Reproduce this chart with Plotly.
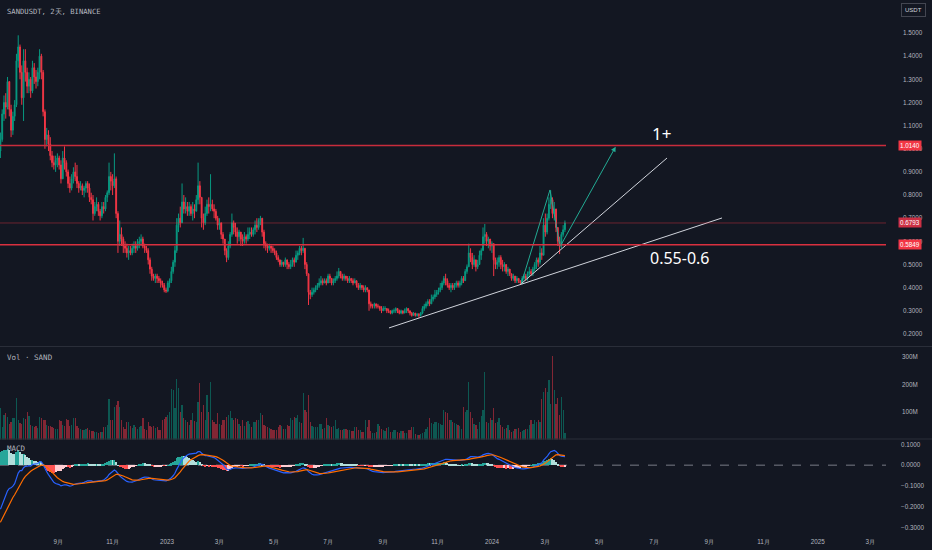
import plotly.graph_objects as go
import pandas as pd

BG = "#131722"
TXT = "#b2b5be"
UP = "#089981"
DN = "#f23645"
FONT = "Liberation Sans"
MONO = "DejaVu Sans Mono"

# ---------------- data (2-day candles) ----------------
first_date = "2022-06-28"
first_open = 0.99
closes = [
    1.04, 1.15, 1.20, 1.18, 1.29, 1.17, 1.08, 1.14, 1.19, 1.38,
    1.44, 1.33, 1.22, 1.38, 1.33, 1.27, 1.30, 1.25, 1.35, 1.31,
    1.29, 1.33, 1.40, 1.33, 1.16, 1.04, 1.06, 1.02, 0.97, 0.94,
    0.93, 0.95, 0.96, 0.93, 0.87, 0.96, 0.94, 0.90, 0.85, 0.83,
    0.87, 0.90, 0.88, 0.85, 0.83, 0.84, 0.82, 0.83, 0.85, 0.83,
    0.79, 0.78, 0.72, 0.75, 0.76, 0.73, 0.71, 0.75, 0.74, 0.79,
    0.81, 0.88, 0.86, 0.84, 0.87, 0.72, 0.60, 0.63, 0.61, 0.58,
    0.57, 0.55, 0.56, 0.55, 0.57, 0.58, 0.57, 0.59, 0.60, 0.61,
    0.58, 0.57, 0.56, 0.52, 0.48, 0.45, 0.44, 0.45, 0.44, 0.43,
    0.42, 0.41, 0.39, 0.385, 0.42, 0.43, 0.47, 0.51, 0.56, 0.67,
    0.70, 0.68, 0.77, 0.74, 0.75, 0.73, 0.75, 0.72, 0.74, 0.73,
    0.78, 0.84, 0.79, 0.70, 0.68, 0.72, 0.76, 0.75, 0.76, 0.74,
    0.73, 0.70, 0.67, 0.68, 0.63, 0.61, 0.56, 0.53, 0.58, 0.63,
    0.68, 0.66, 0.64, 0.62, 0.64, 0.61, 0.60, 0.62, 0.61, 0.63,
    0.64, 0.63, 0.65, 0.67, 0.66, 0.69, 0.70, 0.64, 0.59, 0.58,
    0.57, 0.58, 0.57, 0.56, 0.55, 0.53, 0.52, 0.50, 0.51, 0.50,
    0.52, 0.50, 0.49, 0.50, 0.52, 0.51, 0.54, 0.55, 0.57, 0.56,
    0.57, 0.50, 0.46, 0.38, 0.37, 0.38, 0.39, 0.40, 0.41, 0.42,
    0.43, 0.42, 0.43, 0.42, 0.45, 0.44, 0.42, 0.43, 0.44, 0.45,
    0.47, 0.45, 0.44, 0.45, 0.44, 0.43, 0.44, 0.43, 0.42, 0.43,
    0.41, 0.40, 0.41, 0.40, 0.39, 0.40, 0.39, 0.33, 0.32, 0.32,
    0.33, 0.32, 0.32, 0.31, 0.30, 0.31, 0.31, 0.30, 0.30, 0.29,
    0.30, 0.30, 0.31, 0.30, 0.29, 0.30, 0.29, 0.30, 0.31, 0.30,
    0.29, 0.28, 0.29, 0.28, 0.285, 0.28, 0.29, 0.31, 0.32, 0.33,
    0.34, 0.33, 0.35, 0.36, 0.37, 0.38, 0.39, 0.40, 0.42, 0.44,
    0.43, 0.41, 0.40, 0.41, 0.40, 0.41, 0.42, 0.41, 0.42, 0.44,
    0.43, 0.47, 0.49, 0.55, 0.53, 0.50, 0.52, 0.49, 0.50, 0.54,
    0.56, 0.62, 0.63, 0.60, 0.61, 0.58, 0.59, 0.52, 0.50, 0.51,
    0.53, 0.50, 0.49, 0.50, 0.47, 0.48, 0.46, 0.44, 0.45, 0.43,
    0.44, 0.43, 0.42, 0.44, 0.45, 0.44, 0.46, 0.47, 0.46, 0.48,
    0.50, 0.52, 0.51, 0.55, 0.54, 0.67, 0.64, 0.70, 0.76, 0.78,
    0.72, 0.74, 0.66, 0.60, 0.58, 0.63, 0.65, 0.6793,
]
highs = [
    1.07, 1.17, 1.23, 1.24, 1.31, 1.29, 1.19, 1.16, 1.21, 1.41,
    1.49, 1.45, 1.36, 1.43, 1.43, 1.35, 1.33, 1.31, 1.38, 1.37,
    1.34, 1.35, 1.43, 1.41, 1.34, 1.17, 1.09, 1.08, 1.05, 0.99,
    0.97, 0.97, 0.98, 0.97, 0.95, 0.99, 1.01, 0.95, 0.91, 0.88,
    0.89, 0.92, 0.94, 0.93, 0.86, 0.86, 0.85, 0.84, 0.86, 0.86,
    0.85, 0.81, 0.80, 0.77, 0.79, 0.77, 0.74, 0.77, 0.77, 0.80,
    0.82, 0.94, 0.90, 0.89, 0.98, 0.88, 0.73, 0.69, 0.66, 0.62,
    0.60, 0.59, 0.58, 0.58, 0.59, 0.60, 0.60, 0.61, 0.62, 0.63,
    0.62, 0.59, 0.58, 0.57, 0.53, 0.49, 0.46, 0.46, 0.46, 0.45,
    0.44, 0.43, 0.42, 0.40, 0.43, 0.44, 0.49, 0.52, 0.58, 0.70,
    0.72, 0.75, 0.85, 0.80, 0.79, 0.77, 0.77, 0.76, 0.77, 0.76,
    0.80, 0.94, 0.86, 0.79, 0.72, 0.75, 0.78, 0.79, 0.89, 0.78,
    0.76, 0.74, 0.71, 0.70, 0.68, 0.64, 0.61, 0.57, 0.60, 0.64,
    0.72, 0.69, 0.68, 0.66, 0.65, 0.64, 0.63, 0.64, 0.63, 0.66,
    0.66, 0.66, 0.66, 0.69, 0.70, 0.70, 0.71, 0.70, 0.65, 0.60,
    0.59, 0.59, 0.58, 0.58, 0.57, 0.56, 0.54, 0.52, 0.52, 0.51,
    0.53, 0.52, 0.51, 0.52, 0.53, 0.53, 0.56, 0.56, 0.58, 0.58,
    0.615, 0.57, 0.51, 0.46, 0.39, 0.40, 0.40, 0.41, 0.42, 0.44,
    0.45, 0.44, 0.44, 0.44, 0.46, 0.46, 0.44, 0.44, 0.45, 0.47,
    0.485, 0.47, 0.46, 0.46, 0.45, 0.45, 0.45, 0.44, 0.44, 0.44,
    0.43, 0.42, 0.42, 0.41, 0.41, 0.41, 0.40, 0.39, 0.34, 0.33,
    0.335, 0.33, 0.33, 0.32, 0.32, 0.32, 0.32, 0.31, 0.31, 0.30,
    0.305, 0.31, 0.315, 0.31, 0.305, 0.305, 0.30, 0.31, 0.315, 0.31,
    0.30, 0.295, 0.295, 0.29, 0.29, 0.29, 0.295, 0.32, 0.33, 0.34,
    0.35, 0.35, 0.37, 0.37, 0.39, 0.39, 0.40, 0.42, 0.43, 0.45,
    0.46, 0.44, 0.42, 0.42, 0.42, 0.42, 0.43, 0.43, 0.43, 0.45,
    0.45, 0.48, 0.50, 0.59, 0.57, 0.55, 0.54, 0.52, 0.52, 0.56,
    0.57, 0.66, 0.675, 0.64, 0.62, 0.61, 0.60, 0.59, 0.53, 0.53,
    0.54, 0.54, 0.52, 0.51, 0.50, 0.49, 0.48, 0.46, 0.46, 0.45,
    0.45, 0.44, 0.43, 0.45, 0.46, 0.46, 0.47, 0.49, 0.48, 0.49,
    0.51, 0.53, 0.53, 0.58, 0.57, 0.70, 0.72, 0.72, 0.79, 0.82,
    0.79, 0.77, 0.74, 0.66, 0.62, 0.64, 0.67, 0.69,
]
lows = [
    0.96, 1.03, 1.12, 1.13, 1.17, 1.14, 1.05, 1.06, 1.12, 1.18,
    1.35, 1.30, 1.19, 1.12, 1.29, 1.24, 1.24, 1.22, 1.24, 1.28,
    1.26, 1.27, 1.30, 1.30, 1.14, 1.00, 1.01, 0.99, 0.95, 0.92,
    0.91, 0.90, 0.92, 0.91, 0.85, 0.87, 0.91, 0.88, 0.83, 0.81,
    0.82, 0.85, 0.86, 0.83, 0.81, 0.82, 0.80, 0.79, 0.81, 0.81,
    0.77, 0.76, 0.69, 0.71, 0.73, 0.71, 0.69, 0.70, 0.72, 0.73,
    0.77, 0.80, 0.82, 0.80, 0.83, 0.70, 0.55, 0.58, 0.58, 0.55,
    0.55, 0.53, 0.52, 0.54, 0.54, 0.55, 0.55, 0.56, 0.57, 0.58,
    0.57, 0.55, 0.55, 0.50, 0.46, 0.43, 0.43, 0.42, 0.42, 0.42,
    0.40, 0.40, 0.38, 0.377, 0.38, 0.40, 0.42, 0.46, 0.49, 0.55,
    0.64, 0.66, 0.68, 0.72, 0.72, 0.71, 0.71, 0.71, 0.69, 0.70,
    0.73, 0.76, 0.76, 0.66, 0.65, 0.67, 0.71, 0.72, 0.73, 0.73,
    0.70, 0.69, 0.65, 0.65, 0.61, 0.59, 0.54, 0.51, 0.52, 0.57,
    0.62, 0.63, 0.62, 0.59, 0.60, 0.58, 0.58, 0.59, 0.59, 0.60,
    0.61, 0.62, 0.62, 0.63, 0.64, 0.65, 0.67, 0.62, 0.57, 0.56,
    0.55, 0.56, 0.55, 0.55, 0.54, 0.52, 0.51, 0.49, 0.49, 0.49,
    0.49, 0.48, 0.48, 0.48, 0.49, 0.49, 0.51, 0.52, 0.54, 0.54,
    0.55, 0.48, 0.45, 0.325, 0.35, 0.36, 0.37, 0.38, 0.39, 0.40,
    0.41, 0.41, 0.42, 0.41, 0.42, 0.42, 0.41, 0.41, 0.42, 0.43,
    0.44, 0.44, 0.43, 0.43, 0.43, 0.42, 0.42, 0.42, 0.41, 0.42,
    0.40, 0.39, 0.39, 0.39, 0.38, 0.38, 0.38, 0.30, 0.31, 0.31,
    0.31, 0.31, 0.31, 0.30, 0.29, 0.30, 0.30, 0.29, 0.29, 0.285,
    0.285, 0.29, 0.29, 0.29, 0.285, 0.285, 0.285, 0.29, 0.29, 0.29,
    0.28, 0.275, 0.28, 0.275, 0.275, 0.27, 0.275, 0.285, 0.30, 0.31,
    0.32, 0.32, 0.33, 0.34, 0.35, 0.36, 0.37, 0.38, 0.39, 0.41,
    0.41, 0.40, 0.39, 0.38, 0.39, 0.39, 0.40, 0.40, 0.40, 0.41,
    0.42, 0.43, 0.46, 0.49, 0.51, 0.48, 0.49, 0.47, 0.48, 0.50,
    0.52, 0.56, 0.59, 0.58, 0.57, 0.56, 0.55, 0.45, 0.48, 0.48,
    0.49, 0.48, 0.47, 0.47, 0.46, 0.45, 0.45, 0.43, 0.43, 0.42,
    0.42, 0.42, 0.413, 0.415, 0.43, 0.43, 0.43, 0.45, 0.45, 0.45,
    0.47, 0.48, 0.49, 0.50, 0.52, 0.54, 0.62, 0.63, 0.69, 0.74,
    0.70, 0.69, 0.64, 0.58, 0.545, 0.57, 0.62, 0.64,
]
volumes_m = [
    113, 47, 90, 95, 83, 55, 65, 80, 78, 150,
    70, 60, 58, 80, 75, 100, 85, 52, 50, 45,
    48, 42, 82, 78, 72, 70, 52, 48, 50, 45,
    42, 40, 38, 70, 68, 52, 50, 75, 72, 50,
    52, 80, 78, 48, 42, 40, 35, 36, 38, 42,
    35, 30, 32, 28, 27, 25, 26, 28, 45, 47,
    52, 146, 72, 70, 120, 125, 140, 120, 70, 45,
    40, 65, 62, 48, 42, 52, 45, 40, 46, 48,
    77, 40, 35, 65, 48, 47, 50, 42, 45, 35,
    33, 70, 75, 83, 90, 100, 185, 180, 113, 219,
    186, 100, 125, 77, 70, 65, 52, 70, 95, 68,
    62, 137, 204, 100, 125, 70, 162, 100, 210, 70,
    62, 58, 95, 55, 52, 70, 72, 82, 90, 103,
    78, 70, 80, 75, 55, 50, 70, 48, 65, 68,
    55, 45, 65, 62, 72, 70, 95, 90, 52, 48,
    45, 42, 38, 36, 35, 34, 45, 53, 50, 40,
    38, 52, 50, 77, 72, 83, 80, 89, 65, 60,
    170, 107, 100, 162, 65, 50, 45, 47, 45, 58,
    55, 40, 42, 80, 52, 50, 46, 48, 70, 40,
    42, 35, 34, 40, 38, 34, 33, 30, 30, 44,
    46, 35, 34, 29, 28, 70, 45, 70, 30, 25,
    24, 28, 56, 50, 40, 35, 30, 42, 44, 28,
    26, 33, 35, 28, 25, 32, 30, 24, 22, 33,
    35, 45, 46, 20, 18, 16, 20, 22, 28, 40,
    45, 77, 60, 55, 62, 65, 60, 55, 52, 107,
    100, 95, 70, 72, 65, 60, 58, 52, 50, 40,
    119, 100, 107, 210, 100, 77, 55, 52, 40, 65,
    85, 107, 247, 65, 60, 77, 70, 113, 60, 65,
    77, 52, 46, 40, 42, 53, 35, 28, 30, 37,
    40, 42, 28, 30, 35, 38, 40, 53, 70, 58,
    70, 65, 70, 65, 146, 174, 186, 174, 216, 130,
    305, 180, 130, 150, 89, 153, 107, 22,
]

# MACD(12, 26, 9) state at the left edge
ema12_seed = 1.08
ema26_seed = 1.305
signal_seed = -0.29

# horizontal levels and their axis labels
levels = [1.0140, 0.6793, 0.5849]
level_texts = ["1.0140", "0.6793", "0.5849"]

# drawings (date, price)
trend_long_dates = ["2023-09-07 10:00", "2024-09-15 10:00"]
trend_long_prices = [0.226, 0.701]
trend_steep_dates = ["2024-02-02", "2024-07-15 16:00"]
trend_steep_prices = [0.414, 0.96]
path_dates = ["2024-02-03", "2024-03-06 05:00", "2024-03-17 12:00"]
path_prices = [0.418, 0.822, 0.577]
arrow_end_date = "2024-05-19"
arrow_end_price = 1.009

# axes ticks
price_ticks = [0.2, 0.3, 0.4, 0.5, 0.6, 0.7, 0.8, 0.9, 1.0, 1.1, 1.2, 1.3, 1.4, 1.5]
price_tick_text = ["0.2000", "0.3000", "0.4000", "0.5000", "0.6000", "0.7000", "0.8000",
                   "0.9000", "1.0000", "1.1000", "1.2000", "1.3000", "1.4000", "1.5000"]
vol_ticks = [100, 200, 300]
vol_tick_text = ["100M", "200M", "300M"]
macd_ticks = [0.1, 0.0, -0.1, -0.2, -0.3]
macd_tick_text = ["0.1000", "0.0000", "\u22120.1000", "\u22120.2000", "\u22120.3000"]
month_ticks = ["2022-07-01", "2022-09-01", "2022-11-01", "2023-01-01", "2023-03-01",
               "2023-05-01", "2023-07-01", "2023-09-01", "2023-11-01", "2024-01-01",
               "2024-03-01", "2024-05-01", "2024-07-01", "2024-09-01", "2024-11-01",
               "2025-01-01", "2025-03-01"]
month_text = ["7月", "9月", "11月", "2023", "3月", "5月", "7月", "9月", "11月", "2024",
              "3月", "5月", "7月", "9月", "11月", "2025", "3月"]

# ---------------- derived series ----------------
dates = pd.date_range(first_date, periods=len(closes), freq="2D")
opens = [first_open] + closes[:-1]

a12, a26, a9 = 2 / 13, 2 / 27, 2 / 10
e12, e26, sig = ema12_seed, ema26_seed, signal_seed
macd, signal, hist = [], [], []
for c in closes:
    e12 += a12 * (c - e12)
    e26 += a26 * (c - e26)
    m = e12 - e26
    sig += a9 * (m - sig)
    macd.append(m)
    signal.append(sig)
    hist.append(m - sig)

hist_colors = []
prev = None
for h in hist:
    grow = prev is None or h > prev
    if h >= 0:
        hist_colors.append("#26a69a" if grow else "#b2dfdb")
    else:
        hist_colors.append("#ffcdd2" if grow else "#ff5252")
    prev = h

vol_colors = ["rgba(8,153,129,0.5)" if c >= o else "rgba(242,54,69,0.5)"
              for o, c in zip(opens, closes)]

# ---------------- figure ----------------
H_PLOT = 535.0
W_PLOT = 886.0
def py(px):
    return 1 - px / H_PLOT

fig = go.Figure()

fig.add_trace(go.Bar(x=dates, y=volumes_m, marker=dict(color=vol_colors, line=dict(width=0)),
                     width=2 * 86400000 * 0.7, xaxis="x", yaxis="y2", hoverinfo="skip"))

fig.add_trace(go.Bar(x=dates, y=hist, marker=dict(color=hist_colors, line=dict(width=0)),
                     width=2 * 86400000 * 0.6, xaxis="x", yaxis="y3", hoverinfo="skip"))
fig.add_trace(go.Scatter(x=dates, y=macd, mode="lines", line=dict(color="#2962ff", width=1.2),
                         xaxis="x", yaxis="y3", hoverinfo="skip"))
fig.add_trace(go.Scatter(x=dates, y=signal, mode="lines", line=dict(color="#ff6d00", width=1.2),
                         xaxis="x", yaxis="y3", hoverinfo="skip"))

fig.add_trace(go.Candlestick(
    x=dates, open=opens, high=highs, low=lows, close=closes,
    increasing=dict(line=dict(color=UP, width=1), fillcolor=UP),
    decreasing=dict(line=dict(color=DN, width=1), fillcolor=DN),
    whiskerwidth=0, xaxis="x", yaxis="y", hoverinfo="skip"))

fig.add_trace(go.Scatter(x=trend_long_dates, y=trend_long_prices, mode="lines",
                         line=dict(color="#d1d4dc", width=1), xaxis="x", yaxis="y", hoverinfo="skip"))
fig.add_trace(go.Scatter(x=trend_steep_dates, y=trend_steep_prices, mode="lines",
                         line=dict(color="#d1d4dc", width=1), xaxis="x", yaxis="y", hoverinfo="skip"))
fig.add_trace(go.Scatter(x=path_dates, y=path_prices, mode="lines",
                         line=dict(color="#22ab94", width=1), xaxis="x", yaxis="y", hoverinfo="skip"))

shapes = []
level_line_styles = [("#c92c3c", 1.4), ("rgba(242,54,69,0.4)", 1), ("#d9303f", 1.5)]
for lv, (col, wd) in zip(levels, level_line_styles):
    shapes.append(dict(type="line", xref="paper", yref="y", x0=0, x1=1, y0=lv, y1=lv,
                       line=dict(color=col, width=wd)))
shapes.append(dict(type="line", xref="paper", yref="y3", x0=0, x1=1, y0=0, y1=0,
                   line=dict(color="#787b86", width=1, dash="dash"), layer="below"))
for ypx in (346.5, 439.0):
    shapes.append(dict(type="line", xref="paper", yref="paper", x0=0, x1=932 / W_PLOT,
                       y0=py(ypx), y1=py(ypx), line=dict(color="#2a2e39", width=1)))

annotations = [
    dict(x=arrow_end_date, y=arrow_end_price, ax=path_dates[-1], ay=path_prices[-1],
         xref="x", yref="y", axref="x", ayref="y", showarrow=True, arrowhead=2,
         arrowsize=1, arrowwidth=1, arrowcolor="#22ab94", text=""),
    dict(x="2024-07-10", y=1.068, xref="x", yref="y", text="1+", showarrow=False,
         xanchor="center", yanchor="middle",
         font=dict(family="Noto Sans", size=17, color="#ffffff")),
    dict(x="2024-07-30", y=0.528, xref="x", yref="y", text="0.55-0.6", showarrow=False,
         xanchor="center", yanchor="middle",
         font=dict(family="Noto Sans", size=16, color="#ffffff")),
    dict(x=5 / W_PLOT, y=py(11), xref="paper", yref="paper", xanchor="left", yanchor="middle",
         text="SANDUSDT, 2天, BINANCE",
         showarrow=False, font=dict(family=MONO, size=7.2, color=TXT)),
    dict(x=5 / W_PLOT, y=py(357), xref="paper", yref="paper", xanchor="left", yanchor="middle",
         text="Vol · SAND",
         showarrow=False, font=dict(family=MONO, size=7.5, color=TXT)),
    dict(x=5 / W_PLOT, y=py(448), xref="paper", yref="paper", xanchor="left", yanchor="middle",
         text="MACD",
         showarrow=False, font=dict(family=MONO, size=7.5, color=TXT)),
    dict(x=913.5 / W_PLOT, y=py(10), xref="paper", yref="paper", xanchor="center", yanchor="middle",
         text="USDT", showarrow=False,
         font=dict(family=FONT, size=6, color="#d1d4dc"), bordercolor="#434651", borderwidth=1,
         borderpad=3, bgcolor=BG),
]
label_bg = ["#f23645", "#cc3044", "#f23645"]
for lv, txt, bg in zip(levels, level_texts, label_bg):
    annotations.append(dict(x=910 / W_PLOT, y=lv, xref="paper", yref="y", text=txt, showarrow=False,
                            xanchor="center", yanchor="middle",
                            font=dict(family=FONT, size=6.3, color="#ffffff"), bgcolor=bg,
                            borderpad=1))

axis_common = dict(showgrid=False, zeroline=False, showline=False, ticks="", fixedrange=True)

fig.update_layout(
    width=932, height=550,
    margin=dict(l=0, r=46, t=0, b=15),
    paper_bgcolor=BG, plot_bgcolor=BG,
    showlegend=False, bargap=0,
    shapes=shapes, annotations=annotations,
    xaxis=dict(domain=[0, 1], anchor="y3", type="date",
               range=["2022-06-27 13:00", "2025-03-18 14:00"],
               tickvals=month_ticks, ticktext=month_text, ticklabelstandoff=2,
               tickfont=dict(family=FONT, size=6.3, color=TXT),
               rangeslider=dict(visible=False), **axis_common),
    yaxis=dict(domain=[py(346), 1], anchor="x", side="right", range=[0.1479, 1.6425],
               tickvals=price_ticks, ticktext=price_tick_text, ticklabelstandoff=16,
               tickfont=dict(family=FONT, size=6.3, color=TXT), **axis_common),
    yaxis2=dict(domain=[py(439.5), py(347)], anchor="x", side="right", range=[0, 336.4],
                tickvals=vol_ticks, ticktext=vol_tick_text, ticklabelstandoff=15,
                tickfont=dict(family=FONT, size=6.3, color=TXT), **axis_common),
    yaxis3=dict(domain=[0, py(440)], anchor="x", side="right", range=[-0.335, 0.1207],
                tickvals=macd_ticks, ticktext=macd_tick_text, ticklabelstandoff=14,
                tickfont=dict(family=FONT, size=6.3, color=TXT), **axis_common),
)

fig.write_html("out.html", config={"displayModeBar": False},
               post_script="document.body.style.margin='0';document.body.style.background='#131722';")
